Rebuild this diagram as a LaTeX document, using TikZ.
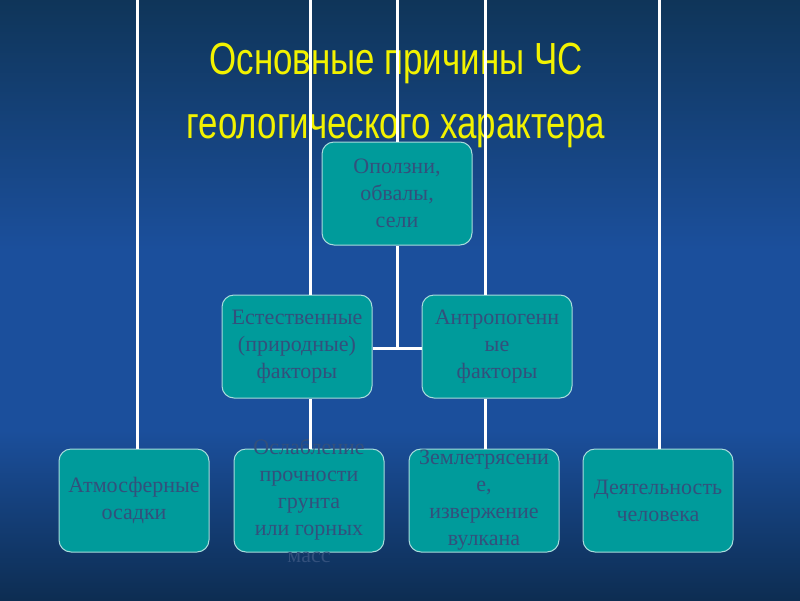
\documentclass[tikz,border=0pt]{standalone}
\usepackage{fontspec}
\setmainfont{Liberation Serif}
\newfontfamily\titlefont{Liberation Sans}
\usepackage{tikz}
\usetikzlibrary{positioning}

\definecolor{bgtop}{HTML}{0F3559}
\definecolor{bgmid}{HTML}{1B4F9C}
\definecolor{bgbot}{HTML}{0D2D52}
\definecolor{boxfill}{HTML}{009B9B}
\definecolor{boxedge}{HTML}{A8DCDC}
\definecolor{boxtext}{HTML}{33507C}
\definecolor{titleyellow}{HTML}{F2F200}

\tikzset{
  cause/.style={draw=boxedge, line width=1pt, fill=boxfill,
    rounded corners=12pt, minimum width=150pt, minimum height=103pt,
    inner sep=0pt},
  causetext/.style={text=boxtext, align=center, inner sep=0pt,
    font=\fontsize{22}{27}\selectfont},
  link/.style={white, line width=3pt}
}

\begin{document}
\begin{tikzpicture}[x=1pt,y=-1pt]
% background
\useasboundingbox (0,0) rectangle (800,600);
\shade[top color=bgtop, bottom color=bgmid] (0,0) rectangle (800,250);
\fill[bgmid] (0,249) rectangle (800,431);
\shade[top color=bgmid, bottom color=bgbot] (0,430) rectangle (800,600);
% title
\node[titleyellow, align=center, font=\titlefont\fontsize{45}{64}\selectfont]
  (title) at (396,95) {\scalebox{0.775}[1]{Основные причины ЧС}\\
  \scalebox{0.775}[1]{геологического характера}};
% top ends of the lines
\coordinate (t1) at (137,0);
\coordinate (t2) at (310,0);
\coordinate (t3) at (397,0);
\coordinate (t4) at (485,0);
\coordinate (t5) at (659,0);
\coordinate (j) at (397,348);
% boxes
\node[cause, label={[causetext]center:Оползни,\\обвалы,\\сели}]
  (opolz) at (397,193.5) {};
\node[cause, label={[causetext]center:Естественные\\(природные)\\факторы}]
  (est) at (297,346.5) {};
\node[cause, label={[causetext]center:Антропогенн\\ые\\факторы}]
  (antr) at (497,346.5) {};
\node[cause, label={[causetext]center:Атмосферные\\осадки}]
  (atm) at (134,500.5) {};
\node[cause, label={[causetext]center:Ослабление\\прочности\\грунта\\или горных\\масс}]
  (osl) at (309,500.5) {};
\node[cause, label={[causetext]center:Землетрясени\\е,\\извержение\\вулкана}]
  (zeml) at (484,500.5) {};
\node[cause, label={[causetext]center:Деятельность\\человека}]
  (deyat) at (658,500.5) {};
% lines
\draw[link] (t1) -- (t1 |- atm.north);
\draw[link] (t2) -- (t2 |- est.north);
\draw[link] (est.south -| t2) -- (t2 |- osl.north);
\draw[link] (t3) -- (opolz.north);
\draw[link] (opolz.south) -- (j);
\draw[link] (est.east |- j) -- (antr.west |- j);
\draw[link] (t4) -- (t4 |- antr.north);
\draw[link] (antr.south -| t4) -- (t4 |- zeml.north);
\draw[link] (t5) -- (t5 |- deyat.north);
\end{tikzpicture}
\end{document}
